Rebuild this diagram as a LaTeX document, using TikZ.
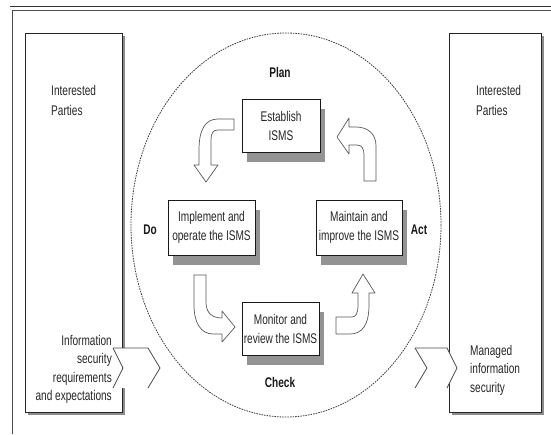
\documentclass[tikz,border=0pt]{standalone}
\usepackage{fontspec}
\setmainfont{Liberation Sans}[FakeStretch=0.72]
\usetikzlibrary{shadows}
\begin{document}
\begin{tikzpicture}[x=1pt,y=-1pt,
  txt/.style={inner sep=0pt, text=black!85, font=\fontsize{14}{20}\selectfont},
  txtb/.style={inner sep=0pt, text=black!85, font=\fontsize{14}{18.5}\selectfont},
  lbl/.style={inner sep=0pt, text=black!90, font=\fontsize{14}{17}\selectfont\bfseries},
  sidebox/.style={draw=black!85, fill=white, line width=0.8pt, inner sep=0pt,
    drop shadow={shadow xshift=3pt, shadow yshift=-3pt, fill=gray!90, opacity=1}},
  procbox/.style={draw=black!90, fill=white, line width=0.8pt, inner sep=0pt, align=center,
    text=black!85, font=\fontsize{14}{19}\selectfont,
    drop shadow={shadow xshift=5pt, shadow yshift=-10pt, fill=gray!85, opacity=1}},
  flow/.style={draw=black!65, fill=white, line width=0.7pt, line join=round},
  chev/.style={draw=black!70, line width=0.8pt, line join=miter},
  dashring/.style={draw=black!75, line width=0.8pt, dash pattern=on 1.6pt off 1pt}
]
\useasboundingbox (0,0) rectangle (551,434);
\fill[white] (0,0) rectangle (551,434);

% page frame
\draw[line width=1.6pt, black!80] (10,6.5) -- (551,6.5);
\draw[line width=0.8pt, black!70] (12,434) -- (12,10) -- (551,10);

% side boxes
\node[sidebox, minimum width=97pt, minimum height=379pt] (lbox) at (73.5,222.5) {};
\node[sidebox, minimum width=92pt, minimum height=379pt] (rbox) at (495,222.5) {};

\node[txt, anchor=west, align=left] (lint) at (51,100) {Interested\\Parties};
\node[txt, anchor=west, align=left] (rint) at (476,100) {Interested\\Parties};

% dashed cycle
\draw[dashring] (286,225) ellipse [x radius=155, y radius=192];

% process boxes
\node[procbox, minimum width=78pt, minimum height=53pt] (est) at (281,125.5) {Establish\\ISMS};
\node[procbox, minimum width=87pt, minimum height=55pt] (impl) at (211.5,227.5) {Implement and\\operate the ISMS};
\node[procbox, minimum width=86pt, minimum height=55pt] (maint) at (359,227.5) {Maintain and\\improve the ISMS};
\node[procbox, minimum width=77pt, minimum height=53pt] (mon) at (280.5,328.5) {Monitor and\\review the ISMS};

% phase labels
\node[lbl] (plan) at (280,72) {Plan};
\node[lbl] (do) at (150,230) {Do};
\node[lbl] (act) at (419,230) {Act};
\node[lbl] (check) at (280,382) {Check};

% curved hollow arrows
\draw[flow] (234,119) -- (218,119) .. controls (205,119) and (199,130) .. (199,150)
  -- (199,165) -- (194,165) -- (206,182) -- (218,165) -- (211,165) -- (211,140)
  .. controls (211,133) and (213,130) .. (218,130) -- (234,130) -- cycle;

\draw[flow] (364,181) -- (376,181) -- (376,146) .. controls (376,134) and (368,127) .. (356,127)
  -- (349,127) -- (349,118) -- (337,137) -- (349,154) -- (349,145) -- (357,145)
  .. controls (362,145) and (364,149) .. (364,155) -- cycle;

\draw[flow] (194,275) -- (206,275) -- (206,302) .. controls (206,313) and (212,318) .. (222,318)
  -- (222,311) -- (235,327) -- (222,342) -- (222,334) -- (213,334)
  .. controls (201,334) and (194,323) .. (194,305) -- cycle;

\draw[flow] (336,317) -- (352,317) .. controls (356,317) and (358,313) .. (358,305)
  -- (358,293) -- (352,293) -- (363,274) -- (375,293) -- (369,293) -- (369,305)
  .. controls (369,325) and (362,334) .. (350,334) -- (336,334) -- cycle;

% input / output chevrons
\fill[white] (113,348) -- (148,348) -- (160,368) -- (148,388) -- (113,388) -- (123,368) -- cycle;
\draw[chev] (113,348) -- (148,348) -- (160,368) -- (148,388);
\draw[chev] (113,348) -- (123,368) -- (113,388);
\fill[white] (415,348) -- (447,348) -- (457,368) -- (447,388) -- (415,388) -- (427,368) -- cycle;
\draw[chev] (415,348) -- (447,348) -- (457,368) -- (447,388);
\draw[chev] (415,348) -- (427,368) -- (415,388);

\node[txtb, anchor=east, align=right] (req) at (112,369.5) {Information\\security\\requirements\\and expectations};
\node[txtb, anchor=west, align=left] (mgd) at (470,370) {Managed\\information\\security};
\end{tikzpicture}
\end{document}
